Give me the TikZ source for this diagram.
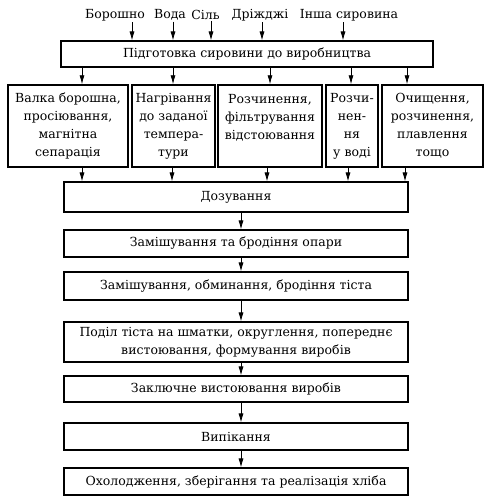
\documentclass[tikz,border=0pt]{standalone}
\usepackage{fontspec}
\setmainfont{DejaVu Serif}
\usetikzlibrary{arrows.meta}
\begin{document}
\begin{tikzpicture}[x=1pt,y=-1pt,
  every node/.style={font=\fontsize{12.5}{18}\selectfont},
  lab/.style={inner sep=1pt},
  mainbox/.style={draw,line width=1.1pt,minimum width=344pt,inner sep=2pt,align=center},
  rowbox/.style={draw,line width=1.4pt,inner sep=2pt,align=center,minimum height=82pt},
  arr/.style={line width=0.8pt,-{Latex[length=9pt,width=5pt]}}]
\useasboundingbox (0,0) rectangle (486,500);
% top labels
\node[lab] (l1) at (115,15) {Борошно};
\node[lab] (l2) at (170,15) {Вода};
\node[lab] (l3) at (205.5,15) {Сіль};
\node[lab] (l4) at (260,15) {Дріжджі};
\node[lab] (l5) at (349,15) {Інша сировина};
% preparation box
\node[draw,line width=1.1pt,minimum width=372pt,minimum height=26pt,inner sep=2pt] (p) at (247,54) {Підготовка сировини до виробництва};
% row boxes
\node[rowbox,minimum width=120pt] (a) at (68,126) {Валка борошна,\\просіювання,\\магнітна\\сепарація};
\node[rowbox,minimum width=83pt] (b) at (173.5,126) {Нагрівання\\до заданої\\темпера-\\тури};
\node[rowbox,minimum width=104pt] (c) at (270,126) {Розчинення,\\фільтрування\\відстоювання\\\mbox{}};
\node[rowbox,minimum width=52pt] (d) at (352,126) {Розчи-\\нен-\\ня\\у воді};
\node[rowbox,minimum width=101pt] (e) at (432.5,126) {Очищення,\\розчинення,\\плавлення\\тощо};
% main column
\node[mainbox,minimum height=30pt] (m1) at (236,197) {Дозування};
\node[mainbox,minimum height=27pt] (m2) at (236,243.5) {Замішування та бродіння опари};
\node[mainbox,minimum height=28pt] (m3) at (236,286) {Замішування, обминання, бродіння тіста};
\node[mainbox,minimum height=40pt] (m4) at (236,342) {Поділ тіста на шматки, округлення, попереднє\\вистоювання, формування виробів};
\node[mainbox,minimum height=26pt] (m5) at (236,389) {Заключне вистоювання виробів};
\node[mainbox,minimum height=27pt] (m6) at (236,436.5) {Випікання};
\node[mainbox,minimum height=27pt] (m7) at (236,481.5) {Охолодження, зберігання та реалізація хліба};
% x positions of arrows
\coordinate (t1) at (132,0);
\coordinate (t2) at (173,0);
\coordinate (t3) at (211,0);
\coordinate (t4) at (262,0);
\coordinate (t5) at (343,0);
\coordinate (r1) at (82,0);
\coordinate (r2) at (173,0);
\coordinate (r3) at (270,0);
\coordinate (r4) at (351,0);
\coordinate (r5) at (407,0);
\coordinate (s1) at (82,0);
\coordinate (s2) at (172,0);
\coordinate (s3) at (267,0);
\coordinate (s4) at (348,0);
\coordinate (s5) at (405,0);
\coordinate (mx) at (241,0);
% arrows from labels
\draw[arr] (t1 |- l1.south) -- (t1 |- p.north);
\draw[arr] (t2 |- l2.south) -- (t2 |- p.north);
\draw[arr] (t3 |- l3.south) -- (t3 |- p.north);
\draw[arr] (t4 |- l4.south) -- (t4 |- p.north);
\draw[arr] (t5 |- l5.south) -- (t5 |- p.north);
% arrows to row
\draw[arr] (r1 |- p.south) -- (r1 |- a.north);
\draw[arr] (r2 |- p.south) -- (r2 |- b.north);
\draw[arr] (r3 |- p.south) -- (r3 |- c.north);
\draw[arr] (r4 |- p.south) -- (r4 |- d.north);
\draw[arr] (r5 |- p.south) -- (r5 |- e.north);
% arrows to dosing
\draw[arr] (s1 |- a.south) -- (s1 |- m1.north);
\draw[arr] (s2 |- b.south) -- (s2 |- m1.north);
\draw[arr] (s3 |- c.south) -- (s3 |- m1.north);
\draw[arr] (s4 |- d.south) -- (s4 |- m1.north);
\draw[arr] (s5 |- e.south) -- (s5 |- m1.north);
% main arrows
\draw[arr] (mx |- m1.south) -- (mx |- m2.north);
\draw[arr] (mx |- m2.south) -- (mx |- m3.north);
\draw[arr] (mx |- m3.south) -- (mx |- m4.north);
\draw[arr] (mx |- m4.south) -- (mx |- m5.north);
\draw[arr] (mx |- m5.south) -- (mx |- m6.north);
\draw[arr] (mx |- m6.south) -- (mx |- m7.north);
\end{tikzpicture}
\end{document}
